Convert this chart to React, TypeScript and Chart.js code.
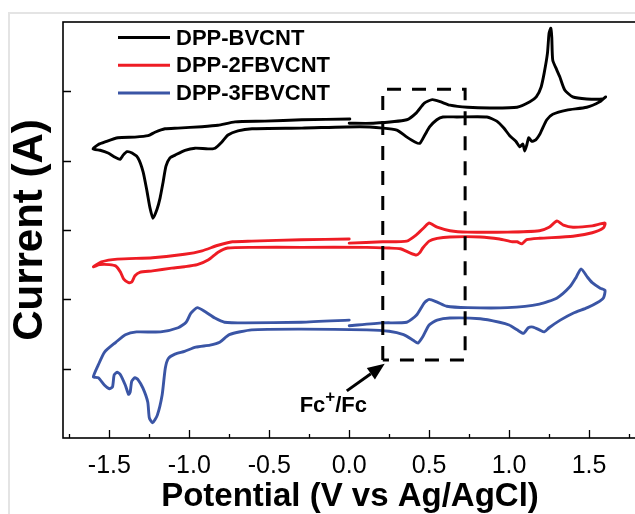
import { useEffect, useRef } from 'react';
import { Chart, registerables } from 'chart.js';

Chart.register(...registerables);

const FONT = '"Liberation Sans", Arial, sans-serif';

const seriesNames = ['DPP-BVCNT', 'DPP-2FBVCNT', 'DPP-3FBVCNT'];
const seriesColors = ['#000000', '#ee1c24', '#3a55a5'];

// DPP-BVCNT: potential (V) and current (a.u.), in scan order
const bvcntV = [0.00, 0.15, 0.36, 0.42, 0.47, 0.52, 0.57, 0.63, 0.74, 0.88, 1.05, 1.13, 1.17, 1.20, 1.22, 1.24, 1.25, 1.261, 1.267, 1.273, 1.298, 1.317, 1.348, 1.398, 1.486, 1.586, 1.604,
  1.567, 1.486, 1.361, 1.273, 1.236, 1.204, 1.192, 1.167, 1.142, 1.123, 1.111, 1.098, 1.086, 1.067, 1.042, 1.004, 0.967, 0.923, 0.861, 0.673, 0.586, 0.548, 0.504, 0.473, 0.442, 0.411, 0.361, 0.298, 0.211, 0.067, -0.296, -0.608, -0.696, -0.758, -0.796, -0.839, -0.883, -0.964, -1.027, -1.089, -1.121, -1.146, -1.164, -1.183, -1.202, -1.227, -1.246, -1.264, -1.289, -1.321, -1.358, -1.389, -1.414, -1.433, -1.464, -1.508, -1.558, -1.602,
  -1.571, -1.527, -1.446, -1.340, -1.258, -1.215, -1.152, -1.071, -0.921, -0.821, -0.714, -0.527, -0.296, 0.004];
const bvcntI = [4.54, 4.54, 4.59, 4.69, 4.83, 4.88, 4.85, 4.80, 4.77, 4.76, 4.77, 4.85, 4.92, 5.06, 5.27, 5.55, 5.84, 5.91, 5.78, 5.45, 5.31, 5.21, 5.02, 4.92, 4.89, 4.89, 4.92,
  4.85, 4.77, 4.73, 4.67, 4.59, 4.44, 4.38, 4.30, 4.28, 4.33, 4.23, 4.14, 4.24, 4.20, 4.28, 4.36, 4.47, 4.57, 4.63, 4.63, 4.63, 4.59, 4.49, 4.37, 4.25, 4.27, 4.34, 4.44, 4.47, 4.49, 4.47, 4.46, 4.43, 4.37, 4.27, 4.18, 4.17, 4.18, 4.15, 4.08, 4.04, 3.92, 3.69, 3.46, 3.30, 3.17, 3.32, 3.55, 3.84, 4.04, 4.11, 4.13, 4.08, 4.02, 4.05, 4.11, 4.15, 4.17,
  4.23, 4.27, 4.33, 4.34, 4.36, 4.41, 4.46, 4.47, 4.49, 4.51, 4.56, 4.57, 4.59, 4.60];

// DPP-2FBVCNT
const dpp2V = [0.00, 0.21, 0.36, 0.42, 0.47, 0.50, 0.55, 0.63, 0.74, 0.99, 1.19, 1.25, 1.30, 1.34, 1.40, 1.52, 1.60,
  1.59, 1.52, 1.40, 1.19, 1.11, 1.08, 1.05, 1.02, 0.94, 0.82, 0.63, 0.55, 0.50, 0.46, 0.44, 0.42, 0.38, 0.32, 0.25, 0.11, -0.30, -0.61, -0.76, -0.82, -0.88, -0.95, -1.03, -1.11, -1.23, -1.31, -1.34, -1.36, -1.38, -1.41, -1.43, -1.46, -1.50, -1.56, -1.60,
  -1.55, -1.45, -1.23, -1.03, -0.92, -0.82, -0.73, -0.61, -0.30, 0.00];
const dpp2I = [2.81, 2.83, 2.84, 2.93, 3.04, 3.10, 3.04, 2.99, 2.97, 2.97, 2.99, 3.04, 3.13, 3.07, 3.04, 3.06, 3.10,
  3.03, 2.96, 2.91, 2.88, 2.86, 2.80, 2.83, 2.83, 2.87, 2.90, 2.90, 2.88, 2.84, 2.74, 2.67, 2.64, 2.67, 2.73, 2.74, 2.75, 2.75, 2.75, 2.74, 2.68, 2.57, 2.50, 2.47, 2.45, 2.41, 2.39, 2.34, 2.25, 2.24, 2.29, 2.39, 2.48, 2.50, 2.50, 2.47,
  2.54, 2.58, 2.60, 2.65, 2.70, 2.78, 2.83, 2.84, 2.86, 2.87];

// DPP-3FBVCNT
const dpp3V = [0.00, 0.21, 0.36, 0.42, 0.47, 0.50, 0.55, 0.61, 0.74, 0.99, 1.19, 1.30, 1.38, 1.42, 1.45, 1.49, 1.52, 1.57, 1.60,
  1.59, 1.55, 1.49, 1.40, 1.32, 1.25, 1.22, 1.19, 1.15, 1.12, 1.09, 1.05, 1.00, 0.94, 0.82, 0.63, 0.55, 0.50, 0.46, 0.43, 0.40, 0.34, 0.25, 0.11, -0.30, -0.61, -0.75, -0.81, -0.87, -0.96, -1.03, -1.09, -1.13, -1.15, -1.17, -1.20, -1.23, -1.25, -1.26, -1.29, -1.32, -1.34, -1.36, -1.37, -1.38, -1.40, -1.43, -1.45, -1.47, -1.48, -1.50, -1.53, -1.57, -1.60,
  -1.57, -1.53, -1.46, -1.40, -1.33, -1.18, -1.07, -1.02, -0.99, -0.95, -0.90, -0.84, -0.78, -0.65, -0.30, 0.00];
const dpp3I = [1.62, 1.66, 1.67, 1.77, 1.95, 2.00, 1.96, 1.90, 1.88, 1.88, 1.93, 2.02, 2.18, 2.32, 2.44, 2.32, 2.24, 2.16, 2.13,
  2.02, 1.95, 1.88, 1.80, 1.70, 1.59, 1.53, 1.56, 1.60, 1.59, 1.51, 1.56, 1.63, 1.67, 1.72, 1.73, 1.70, 1.63, 1.46, 1.37, 1.41, 1.49, 1.54, 1.56, 1.57, 1.56, 1.49, 1.38, 1.34, 1.31, 1.25, 1.21, 1.15, 1.01, 0.62, 0.33, 0.22, 0.29, 0.52, 0.72, 0.84, 0.87, 0.82, 0.66, 0.63, 0.76, 0.91, 0.95, 0.91, 0.74, 0.71, 0.76, 0.87, 0.88,
  1.05, 1.24, 1.38, 1.49, 1.53, 1.53, 1.59, 1.67, 1.80, 1.88, 1.82, 1.73, 1.67, 1.66, 1.67, 1.70];

// Dashed Fc+/Fc window, arrow and its label (data coordinates)
const boxV = [0.21, 0.21, 0.725, 0.725, 0.21];
const boxI = [1.125, 5.03, 5.03, 1.125, 1.125];
const arrowV = [-0.015, 0.222];
const arrowI = [0.68, 1.07];
const fcLabelV = -0.31;
const fcLabelI = 0.375;

// Axis ticks
const xMajorTicks = [-1.5, -1.0, -0.5, 0.0, 0.5, 1.0, 1.5];
const xMinorTicks = [-1.75, -1.25, -0.75, -0.25, 0.25, 0.75, 1.25, 1.75];
const yTicks = [1, 2, 3, 4, 5];
const xMin = -1.79;
const xMax = 1.8;
const yMin = 0;
const yMax = 6;

const zip = (v: number[], i: number[]) => v.map((x, k) => ({ x, y: i[k] }));

const decorPlugin = {
  id: 'decor',
  afterDraw(chart: any) {
    const { ctx, chartArea: a, scales } = chart;
    const x = scales.x;
    const y = scales.y;
    ctx.save();
    // frame
    ctx.strokeStyle = '#000';
    ctx.lineWidth = 1.6;
    ctx.strokeRect(a.left, a.top, a.right - a.left, a.bottom - a.top);
    // inward ticks
    ctx.lineWidth = 1.3;
    ctx.beginPath();
    for (const v of xMajorTicks) {
      const px = Math.round(x.getPixelForValue(v)) + 0.5;
      ctx.moveTo(px, a.bottom);
      ctx.lineTo(px, a.bottom - 8);
    }
    for (const v of xMinorTicks) {
      const px = Math.round(x.getPixelForValue(v)) + 0.5;
      ctx.moveTo(px, a.bottom);
      ctx.lineTo(px, a.bottom - 4);
    }
    for (const v of yTicks) {
      const py = Math.round(y.getPixelForValue(v)) + 0.5;
      ctx.moveTo(a.left, py);
      ctx.lineTo(a.left + 8, py);
    }
    ctx.stroke();

    // legend
    ctx.font = `bold 22px ${FONT}`;
    ctx.textBaseline = 'middle';
    ctx.textAlign = 'left';
    seriesNames.forEach((name, k) => {
      const ly = a.top + 15.5 + k * 27.8;
      ctx.strokeStyle = seriesColors[k];
      ctx.lineWidth = 3;
      ctx.beginPath();
      ctx.moveTo(a.left + 55, ly);
      ctx.lineTo(a.left + 107, ly);
      ctx.stroke();
      ctx.fillStyle = '#000';
      ctx.fillText(name, a.left + 113, ly + 1);
    });

    // arrow
    const x0 = x.getPixelForValue(arrowV[0]);
    const y0 = y.getPixelForValue(arrowI[0]);
    const x1 = x.getPixelForValue(arrowV[1]);
    const y1 = y.getPixelForValue(arrowI[1]);
    const ang = Math.atan2(y1 - y0, x1 - x0);
    const hl = 17;
    const hw = 7;
    const bx = x1 - hl * Math.cos(ang);
    const by = y1 - hl * Math.sin(ang);
    ctx.strokeStyle = '#000';
    ctx.lineWidth = 3;
    ctx.beginPath();
    ctx.moveTo(x0, y0);
    ctx.lineTo(bx, by);
    ctx.stroke();
    ctx.fillStyle = '#000';
    ctx.beginPath();
    ctx.moveTo(x1, y1);
    ctx.lineTo(bx + hw * Math.sin(ang), by - hw * Math.cos(ang));
    ctx.lineTo(bx - hw * Math.sin(ang), by + hw * Math.cos(ang));
    ctx.closePath();
    ctx.fill();

    // Fc+/Fc label
    let tx = x.getPixelForValue(fcLabelV);
    const ty = y.getPixelForValue(fcLabelI);
    ctx.textBaseline = 'alphabetic';
    ctx.font = `bold 22px ${FONT}`;
    ctx.fillText('Fc', tx, ty);
    tx += ctx.measureText('Fc').width;
    ctx.font = `bold 17px ${FONT}`;
    ctx.fillText('+', tx, ty - 10);
    tx += ctx.measureText('+').width;
    ctx.font = `bold 22px ${FONT}`;
    ctx.fillText('/Fc', tx, ty);
    ctx.restore();
  },
};

export default function App() {
  const ref = useRef<HTMLCanvasElement | null>(null);
  useEffect(() => {
    if (!ref.current) return;
    const lineDs = (label: string, v: number[], i: number[], color: string) => ({
      label,
      data: zip(v, i),
      showLine: true,
      borderColor: color,
      backgroundColor: color,
      borderWidth: 2.9,
      pointRadius: 0,
      tension: 0.2,
      borderJoinStyle: 'round',
      borderCapStyle: 'round',
      fill: false,
    });
    const chart = new Chart(ref.current, {
      type: 'scatter',
      data: {
        datasets: [
          {
            label: 'Fc+/Fc window',
            data: zip(boxV, boxI),
            showLine: true,
            borderColor: '#000',
            borderWidth: 3,
            borderDash: [14, 11],
            pointRadius: 0,
            tension: 0,
            fill: false,
          } as any,
          lineDs(seriesNames[0], bvcntV, bvcntI, seriesColors[0]),
          lineDs(seriesNames[1], dpp2V, dpp2I, seriesColors[1]),
          lineDs(seriesNames[2], dpp3V, dpp3I, seriesColors[2]),
        ],
      },
      options: {
        responsive: false,
        animation: false,
        devicePixelRatio: 1,
        layout: { padding: { left: 0, top: 22, right: 23, bottom: 0 } },
        plugins: { legend: { display: false }, title: { display: false }, tooltip: { enabled: false } },
        events: [],
        scales: {
          x: {
            type: 'linear',
            min: xMin,
            max: xMax,
            afterBuildTicks: (s: any) => {
              s.ticks = [...xMajorTicks, ...xMinorTicks].sort((p, q) => p - q).map((value) => ({ value }));
            },
            afterFit: (s: any) => {
              s.height = 76;
            },
            ticks: {
              autoSkip: false,
              maxRotation: 0,
              padding: 13,
              color: '#000',
              font: { family: FONT, size: 25 },
              callback: (v: any) => (xMajorTicks.some((m) => Math.abs(m - v) < 1e-9) ? Number(v).toFixed(1) : ''),
            },
            grid: { display: false, drawTicks: false },
            border: { display: false },
            title: {
              display: true,
              text: 'Potential (V vs Ag/AgCl)',
              color: '#000',
              font: { family: FONT, size: 33, weight: 'bold', lineHeight: 1 },
              padding: { top: 0, bottom: 1 },
            },
          },
          y: {
            type: 'linear',
            min: yMin,
            max: yMax,
            afterBuildTicks: (s: any) => {
              s.ticks = yTicks.map((value) => ({ value }));
            },
            afterFit: (s: any) => {
              s.width = 63;
            },
            ticks: { display: false },
            grid: { display: false, drawTicks: false },
            border: { display: false },
            title: {
              display: true,
              text: 'Current (A)',
              color: '#000',
              font: { family: FONT, size: 42, weight: 'bold', lineHeight: 1 },
              padding: { top: 9, bottom: 0 },
            },
          },
        },
      } as any,
      plugins: [decorPlugin],
    });
    return () => chart.destroy();
  }, []);

  return (
    <div style={{ position: 'fixed', left: 0, top: 0, width: 635, height: 514, overflow: 'hidden', background: '#fff' }}>
      <div
        style={{
          position: 'absolute',
          left: 8,
          top: 12,
          width: 700,
          height: 600,
          borderTop: '2px solid #e4e4e4',
          borderLeft: '2px solid #e4e4e4',
        }}
      />
      <canvas ref={ref} width={660} height={514} style={{ position: 'absolute', left: 0, top: 0, width: 660, height: 514 }} />
    </div>
  );
}
